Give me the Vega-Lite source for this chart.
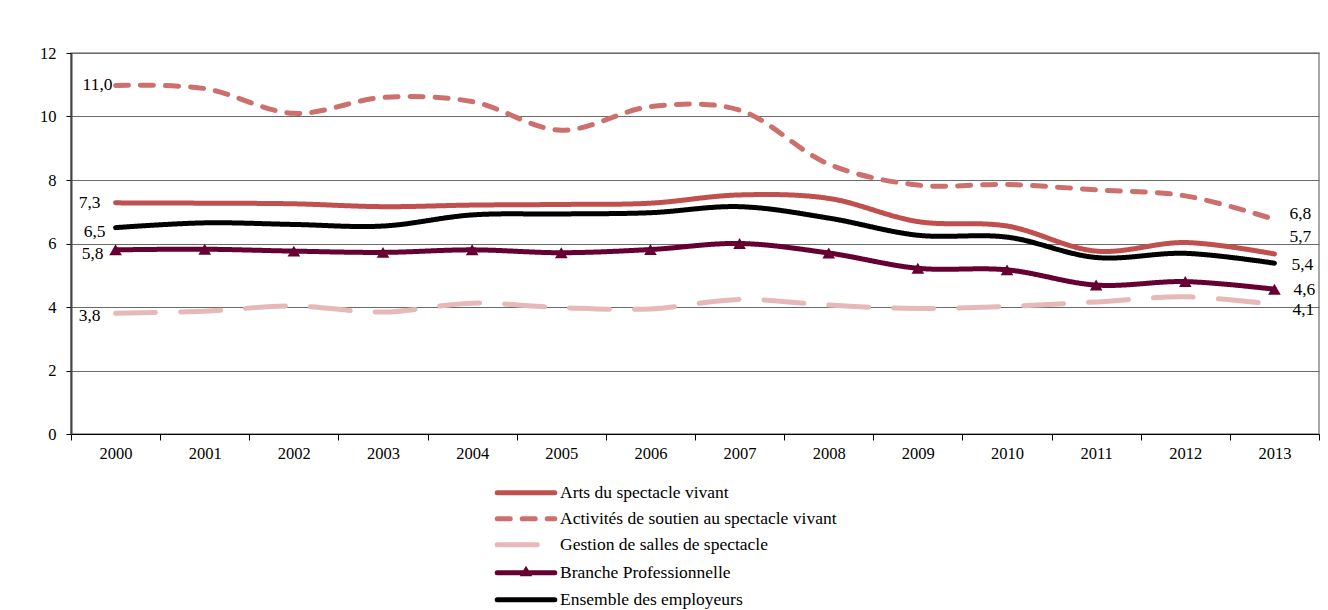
{
  "$schema": "https://vega.github.io/schema/vega-lite/v6.json",
  "width": 1248,
  "height": 381,
  "autosize": {"type": "none"},
  "padding": {"left": 71, "top": 53, "right": 9, "bottom": 176},
  "background": "white",
  "config": {
    "locale": {"number": {"decimal": ",", "thousands": " ", "grouping": [3], "currency": ["", " €"]}},
    "view": {"stroke": "#8c8c8c", "strokeWidth": 1.5},
    "font": "Liberation Serif",
    "axis": {"labelFont": "Liberation Serif", "labelColor": "#000", "labelFontSize": 16.5}
  },
  "data": {"values": [
    {"annee": "2000", "serie": "Arts du spectacle vivant", "taux": 7.28},
    {"annee": "2001", "serie": "Arts du spectacle vivant", "taux": 7.27},
    {"annee": "2002", "serie": "Arts du spectacle vivant", "taux": 7.25},
    {"annee": "2003", "serie": "Arts du spectacle vivant", "taux": 7.16},
    {"annee": "2004", "serie": "Arts du spectacle vivant", "taux": 7.21},
    {"annee": "2005", "serie": "Arts du spectacle vivant", "taux": 7.23},
    {"annee": "2006", "serie": "Arts du spectacle vivant", "taux": 7.27},
    {"annee": "2007", "serie": "Arts du spectacle vivant", "taux": 7.53},
    {"annee": "2008", "serie": "Arts du spectacle vivant", "taux": 7.42},
    {"annee": "2009", "serie": "Arts du spectacle vivant", "taux": 6.69},
    {"annee": "2010", "serie": "Arts du spectacle vivant", "taux": 6.55},
    {"annee": "2011", "serie": "Arts du spectacle vivant", "taux": 5.76},
    {"annee": "2012", "serie": "Arts du spectacle vivant", "taux": 6.03},
    {"annee": "2013", "serie": "Arts du spectacle vivant", "taux": 5.67},
    {"annee": "2000", "serie": "Activités de soutien au spectacle vivant", "taux": 10.98},
    {"annee": "2001", "serie": "Activités de soutien au spectacle vivant", "taux": 10.88},
    {"annee": "2002", "serie": "Activités de soutien au spectacle vivant", "taux": 10.1},
    {"annee": "2003", "serie": "Activités de soutien au spectacle vivant", "taux": 10.6},
    {"annee": "2004", "serie": "Activités de soutien au spectacle vivant", "taux": 10.47},
    {"annee": "2005", "serie": "Activités de soutien au spectacle vivant", "taux": 9.57},
    {"annee": "2006", "serie": "Activités de soutien au spectacle vivant", "taux": 10.31},
    {"annee": "2007", "serie": "Activités de soutien au spectacle vivant", "taux": 10.2},
    {"annee": "2008", "serie": "Activités de soutien au spectacle vivant", "taux": 8.5},
    {"annee": "2009", "serie": "Activités de soutien au spectacle vivant", "taux": 7.84},
    {"annee": "2010", "serie": "Activités de soutien au spectacle vivant", "taux": 7.86},
    {"annee": "2011", "serie": "Activités de soutien au spectacle vivant", "taux": 7.69},
    {"annee": "2012", "serie": "Activités de soutien au spectacle vivant", "taux": 7.5},
    {"annee": "2013", "serie": "Activités de soutien au spectacle vivant", "taux": 6.76},
    {"annee": "2000", "serie": "Gestion de salles de spectacle", "taux": 3.8},
    {"annee": "2001", "serie": "Gestion de salles de spectacle", "taux": 3.87},
    {"annee": "2002", "serie": "Gestion de salles de spectacle", "taux": 4.03},
    {"annee": "2003", "serie": "Gestion de salles de spectacle", "taux": 3.84},
    {"annee": "2004", "serie": "Gestion de salles de spectacle", "taux": 4.12},
    {"annee": "2005", "serie": "Gestion de salles de spectacle", "taux": 3.98},
    {"annee": "2006", "serie": "Gestion de salles de spectacle", "taux": 3.94},
    {"annee": "2007", "serie": "Gestion de salles de spectacle", "taux": 4.24},
    {"annee": "2008", "serie": "Gestion de salles de spectacle", "taux": 4.06},
    {"annee": "2009", "serie": "Gestion de salles de spectacle", "taux": 3.95},
    {"annee": "2010", "serie": "Gestion de salles de spectacle", "taux": 4.02},
    {"annee": "2011", "serie": "Gestion de salles de spectacle", "taux": 4.16},
    {"annee": "2012", "serie": "Gestion de salles de spectacle", "taux": 4.32},
    {"annee": "2013", "serie": "Gestion de salles de spectacle", "taux": 4.08},
    {"annee": "2000", "serie": "Branche Professionnelle", "taux": 5.8},
    {"annee": "2001", "serie": "Branche Professionnelle", "taux": 5.82},
    {"annee": "2002", "serie": "Branche Professionnelle", "taux": 5.76},
    {"annee": "2003", "serie": "Branche Professionnelle", "taux": 5.72},
    {"annee": "2004", "serie": "Branche Professionnelle", "taux": 5.8},
    {"annee": "2005", "serie": "Branche Professionnelle", "taux": 5.71},
    {"annee": "2006", "serie": "Branche Professionnelle", "taux": 5.81},
    {"annee": "2007", "serie": "Branche Professionnelle", "taux": 6.0},
    {"annee": "2008", "serie": "Branche Professionnelle", "taux": 5.7},
    {"annee": "2009", "serie": "Branche Professionnelle", "taux": 5.22},
    {"annee": "2010", "serie": "Branche Professionnelle", "taux": 5.17},
    {"annee": "2011", "serie": "Branche Professionnelle", "taux": 4.69},
    {"annee": "2012", "serie": "Branche Professionnelle", "taux": 4.8},
    {"annee": "2013", "serie": "Branche Professionnelle", "taux": 4.56},
    {"annee": "2000", "serie": "Ensemble des employeurs", "taux": 6.5},
    {"annee": "2001", "serie": "Ensemble des employeurs", "taux": 6.65},
    {"annee": "2002", "serie": "Ensemble des employeurs", "taux": 6.6},
    {"annee": "2003", "serie": "Ensemble des employeurs", "taux": 6.55},
    {"annee": "2004", "serie": "Ensemble des employeurs", "taux": 6.9},
    {"annee": "2005", "serie": "Ensemble des employeurs", "taux": 6.93},
    {"annee": "2006", "serie": "Ensemble des employeurs", "taux": 6.97},
    {"annee": "2007", "serie": "Ensemble des employeurs", "taux": 7.16},
    {"annee": "2008", "serie": "Ensemble des employeurs", "taux": 6.8},
    {"annee": "2009", "serie": "Ensemble des employeurs", "taux": 6.26},
    {"annee": "2010", "serie": "Ensemble des employeurs", "taux": 6.2},
    {"annee": "2011", "serie": "Ensemble des employeurs", "taux": 5.56},
    {"annee": "2012", "serie": "Ensemble des employeurs", "taux": 5.69},
    {"annee": "2013", "serie": "Ensemble des employeurs", "taux": 5.38}
  ]},
  "encoding": {
    "x": {
      "field": "annee", "type": "ordinal", "bandPosition": 0.5,
      "scale": {"type": "band", "paddingInner": 0, "paddingOuter": 0},
      "axis": {"title": null, "labelAngle": 0, "tickBand": "extent", "domainColor": "#000", "domainWidth": 1, "tickColor": "#000", "tickSize": 6, "labelPadding": 5, "grid": false}
    },
    "y": {
      "field": "taux", "type": "quantitative",
      "scale": {"domain": [0, 12], "nice": false},
      "axis": {"title": null, "values": [0, 2, 4, 6, 8, 10, 12], "format": "d", "domainColor": "#444", "domainWidth": 2, "tickColor": "#000", "tickSize": 5, "labelPadding": 10, "gridColor": "#6a6a6a", "gridWidth": 1}
    }
  },
  "layer": [
    {
      "mark": {"type": "line", "interpolate": "catmull-rom", "strokeWidth": 5, "strokeCap": "round", "strokeJoin": "round"},
      "encoding": {
        "color": {
          "field": "serie", "type": "nominal",
          "scale": {"domain": ["Arts du spectacle vivant", "Activités de soutien au spectacle vivant", "Gestion de salles de spectacle", "Branche Professionnelle", "Ensemble des employeurs"],
                    "range": ["#c0504d", "#cc6f6d", "#e6b8b7", "#660033", "#000000"]},
          "legend": {"title": null, "orient": "none", "legendX": 426, "legendY": 431, "padding": 0, "direction": "vertical", "symbolType": "M-9.6,0H9.6", "symbolSize": 36, "symbolStrokeWidth": 5, "labelFont": "Liberation Serif", "labelFontSize": 17.5, "labelColor": "#000", "rowPadding": 5, "labelOffset": 4, "labelLimit": 500,
            "encode": {
              "symbols": {"update": {"x": {"value": 29}, "strokeCap": {"value": "round"},
                "shape": {"signal": "datum.value == 'Branche Professionnelle' ? 'M-9.6,0H9.6M-0.6,0.3L0,-0.7L0.6,0.3Z' : 'M-9.6,0H9.6'"},
                "fill": {"signal": "datum.value == 'Branche Professionnelle' ? '#660033' : 'transparent'"}}},
              "labels": {"update": {"x": {"value": 63}}}
            }}
        },
        "strokeDash": {
          "field": "serie", "type": "nominal",
          "scale": {"domain": ["Arts du spectacle vivant", "Activités de soutien au spectacle vivant", "Gestion de salles de spectacle", "Branche Professionnelle", "Ensemble des employeurs"],
                    "range": [[1, 0], [13, 12], [40, 25], [1, 0], [1, 0]]},
          "legend": {"title": null, "orient": "none", "legendX": 426, "legendY": 431, "padding": 0, "direction": "vertical", "symbolType": "M-9.6,0H9.6", "symbolSize": 36, "symbolStrokeWidth": 5, "labelFont": "Liberation Serif", "labelFontSize": 17.5, "labelColor": "#000", "rowPadding": 5, "labelOffset": 4, "labelLimit": 500,
            "encode": {
              "symbols": {"update": {"x": {"value": 29}, "strokeCap": {"value": "round"},
                "shape": {"signal": "datum.value == 'Branche Professionnelle' ? 'M-9.6,0H9.6M-0.6,0.3L0,-0.7L0.6,0.3Z' : 'M-9.6,0H9.6'"},
                "fill": {"signal": "datum.value == 'Branche Professionnelle' ? '#660033' : 'transparent'"}}},
              "labels": {"update": {"x": {"value": 63}}}
            }}
        }
      }
    },
    {
      "transform": [{"filter": "datum.serie == 'Branche Professionnelle'"}],
      "mark": {"type": "point", "shape": "triangle-up", "filled": true, "size": 160, "color": "#660033", "opacity": 1}
    },
    {
      "transform": [{"filter": "datum.annee == '2000' && datum.serie == 'Activités de soutien au spectacle vivant'"}],
      "mark": {"type": "text", "align": "right", "baseline": "middle", "dx": -3, "dy": 0, "fontSize": 17.5, "font": "Liberation Serif", "color": "#000"},
      "encoding": {"text": {"field": "taux", "type": "quantitative", "format": ".1f"}}
    },
    {
      "transform": [{"filter": "datum.annee == '2000' && datum.serie == 'Arts du spectacle vivant'"}],
      "mark": {"type": "text", "align": "right", "baseline": "middle", "dx": -15, "dy": 0, "fontSize": 17.5, "font": "Liberation Serif", "color": "#000"},
      "encoding": {"text": {"field": "taux", "type": "quantitative", "format": ".1f"}}
    },
    {
      "transform": [{"filter": "datum.annee == '2000' && datum.serie == 'Ensemble des employeurs'"}],
      "mark": {"type": "text", "align": "right", "baseline": "middle", "dx": -10, "dy": 4, "fontSize": 17.5, "font": "Liberation Serif", "color": "#000"},
      "encoding": {"text": {"field": "taux", "type": "quantitative", "format": ".1f"}}
    },
    {
      "transform": [{"filter": "datum.annee == '2000' && datum.serie == 'Branche Professionnelle'"}],
      "mark": {"type": "text", "align": "right", "baseline": "middle", "dx": -12, "dy": 4, "fontSize": 17.5, "font": "Liberation Serif", "color": "#000"},
      "encoding": {"text": {"field": "taux", "type": "quantitative", "format": ".1f"}}
    },
    {
      "transform": [{"filter": "datum.annee == '2000' && datum.serie == 'Gestion de salles de spectacle'"}],
      "mark": {"type": "text", "align": "right", "baseline": "middle", "dx": -15, "dy": 3, "fontSize": 17.5, "font": "Liberation Serif", "color": "#000"},
      "encoding": {"text": {"field": "taux", "type": "quantitative", "format": ".1f"}}
    },
    {
      "transform": [{"filter": "datum.annee == '2013' && datum.serie == 'Activités de soutien au spectacle vivant'"}],
      "mark": {"type": "text", "align": "left", "baseline": "middle", "dx": 15, "dy": -5, "fontSize": 17.5, "font": "Liberation Serif", "color": "#000"},
      "encoding": {"text": {"field": "taux", "type": "quantitative", "format": ".1f"}}
    },
    {
      "transform": [{"filter": "datum.annee == '2013' && datum.serie == 'Arts du spectacle vivant'"}],
      "mark": {"type": "text", "align": "left", "baseline": "middle", "dx": 15, "dy": -17, "fontSize": 17.5, "font": "Liberation Serif", "color": "#000"},
      "encoding": {"text": {"field": "taux", "type": "quantitative", "format": ".1f"}}
    },
    {
      "transform": [{"filter": "datum.annee == '2013' && datum.serie == 'Ensemble des employeurs'"}],
      "mark": {"type": "text", "align": "left", "baseline": "middle", "dx": 17, "dy": 2, "fontSize": 17.5, "font": "Liberation Serif", "color": "#000"},
      "encoding": {"text": {"field": "taux", "type": "quantitative", "format": ".1f"}}
    },
    {
      "transform": [{"filter": "datum.annee == '2013' && datum.serie == 'Branche Professionnelle'"}],
      "mark": {"type": "text", "align": "left", "baseline": "middle", "dx": 19, "dy": 1, "fontSize": 17.5, "font": "Liberation Serif", "color": "#000"},
      "encoding": {"text": {"field": "taux", "type": "quantitative", "format": ".1f"}}
    },
    {
      "transform": [{"filter": "datum.annee == '2013' && datum.serie == 'Gestion de salles de spectacle'"}],
      "mark": {"type": "text", "align": "left", "baseline": "middle", "dx": 18, "dy": 6, "fontSize": 17.5, "font": "Liberation Serif", "color": "#000"},
      "encoding": {"text": {"field": "taux", "type": "quantitative", "format": ".1f"}}
    }
  ]
}
